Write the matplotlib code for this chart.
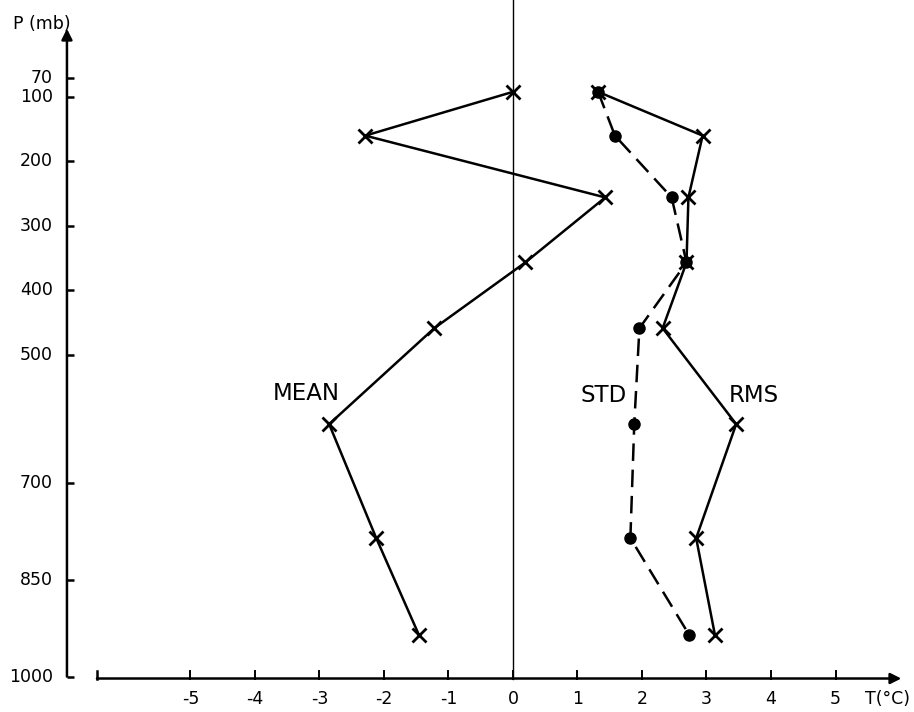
import matplotlib
matplotlib.use("Agg")
import matplotlib.pyplot as plt

# pressure levels (mb) of the plotted points
levels = [92, 160, 256, 357, 459, 608, 785, 935]

# temperature error profiles (deg C)
mean_t = [0.0, -2.29, 1.43, 0.19, -1.22, -2.85, -2.12, -1.46]
std_t = [1.32, 1.58, 2.46, 2.69, 1.96, 1.88, 1.82, 2.73]
rms_t = [1.32, 2.94, 2.72, 2.69, 2.32, 3.46, 2.84, 3.13]

# axis ticks
p_ticks = [70, 100, 200, 300, 400, 500, 700, 850, 1000]
t_ticks = [-5, -4, -3, -2, -1, 0, 1, 2, 3, 4, 5]

plt.rcParams['font.family'] = ['DejaVu Sans']

fig = plt.figure(figsize=(9.14, 7.12), dpi=100)
ax = fig.add_axes([0, 0, 1, 1])
ax.set_xlim(-7.953, 6.217)
ax.set_ylim(1055, -50.6)
ax.set_axis_off()

k = 'black'
y_ax = -6.915      # position of the pressure axis
x_ax_p = 1003      # position of the temperature axis

# pressure axis with arrow
ax.annotate('', xy=(y_ax, -6), xytext=(y_ax, 1000),
            arrowprops=dict(arrowstyle='-|>', lw=1.8, color=k,
                            mutation_scale=16, shrinkA=0, shrinkB=0))
for p in p_ticks:
    ax.plot([y_ax, y_ax + 0.11], [p, p], color=k, lw=1.8, solid_capstyle='butt')
    ax.text(y_ax - 0.22, p, str(p), ha='right', va='center', fontsize=12.5)
ax.text(-7.3, -14, 'P (mb)', ha='center', va='center', fontsize=12.5)

# temperature axis with arrow
ax.annotate('', xy=(6.02, x_ax_p), xytext=(-6.45, x_ax_p),
            arrowprops=dict(arrowstyle='-|>', lw=1.8, color=k,
                            mutation_scale=16, shrinkA=0, shrinkB=0))
ax.plot([-6.45, -6.45], [x_ax_p, x_ax_p - 11], color=k, lw=1.8)
for t in t_ticks:
    ax.plot([t, t], [x_ax_p, x_ax_p - 11], color=k, lw=1.4)
    lab = str(t) if t >= 0 else '-' + str(-t)
    ax.text(t, x_ax_p + 32, lab, ha='center', va='center', fontsize=12.5)
ax.text(5.8, x_ax_p + 32, 'T(°C)', ha='center', va='center', fontsize=12.5)

# zero line
ax.plot([0, 0], [-50, x_ax_p], color=k, lw=1.0)

# profiles
ax.plot(mean_t, levels, color=k, lw=1.8, marker='x', ms=10, mew=2)
ax.plot(rms_t, levels, color=k, lw=1.8, marker='x', ms=10, mew=2)
ax.plot(std_t, levels, color=k, lw=1.8, dashes=(7, 3.5), marker='o', ms=8)

ax.text(-3.2, 560, 'MEAN', ha='center', va='center', fontsize=16.5)
ax.text(1.4, 563, 'STD', ha='center', va='center', fontsize=16.5)
ax.text(3.74, 563, 'RMS', ha='center', va='center', fontsize=16.5)

fig.savefig('out.png', dpi=100, facecolor='white')
